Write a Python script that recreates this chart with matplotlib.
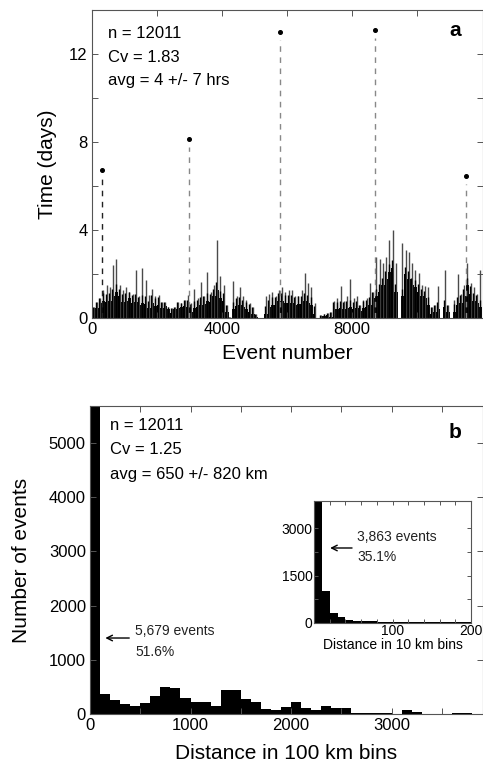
import numpy as np
import matplotlib
matplotlib.use("Agg")
import matplotlib.pyplot as plt

plt.rcParams['font.family'] = ['Liberation Sans', 'DejaVu Sans']

# ---- panel a: time between consecutive events, read in 100-event windows ----
win_start = np.arange(0, 12000, 100)
base_days = [0.3, 0.45, 0.7, 0.8, 0.75, 0.8, 1.0, 1.2, 1.0, 0.75,
             0.8, 0.9, 0.7, 0.75, 0.6, 0.7, 0.65, 0.45, 0.7, 0.55,
             0.6, 0.45, 0.55, 0.4, 0.25, 0.4, 0.45, 0.5, 0.55, 0.5,
             0.3, 0.45, 0.5, 0.6, 0.65, 0.8, 0.75, 1.0, 1.3, 0.9,
             0.8, 0.3, 0.0, 0.4, 0.55, 0.6, 0.5, 0.4, 0.3, 0.2,
             0.05, 0.0, 0.0, 0.2, 0.5, 0.6, 0.6, 0.8, 0.8, 0.7,
             0.7, 0.7, 0.6, 0.65, 0.65, 0.8, 0.7, 0.6, 0.2, 0.0,
             0.1, 0.12, 0.15, 0.05, 0.4, 0.4, 0.45, 0.4, 0.45, 0.5,
             0.4, 0.45, 0.35, 0.45, 0.5, 0.6, 0.9, 1.0, 1.2, 1.5,
             1.8, 2.1, 2.3, 1.2, 0.0, 1.0, 2.0, 1.8, 1.5, 1.4,
             1.2, 1.0, 0.9, 0.6, 0.2, 0.3, 0.4, 0.0, 0.5, 0.3,
             0.0, 0.3, 0.6, 0.7, 1.0, 1.5, 1.1, 0.8, 0.7, 0.5]
peak_days = [0.5, 0.75, 0.9, 1.3, 1.5, 1.4, 2.4, 2.7, 1.5, 1.3,
             1.4, 1.2, 1.1, 2.2, 1.0, 2.3, 1.75, 1.05, 1.35, 1.0,
             1.05, 0.75, 0.75, 0.5, 0.45, 0.5, 0.75, 0.7, 0.85, 1.05,
             0.7, 1.35, 0.9, 1.65, 1.0, 2.1, 1.2, 1.5, 3.55, 1.9,
             1.5, 0.6, 0.05, 1.7, 1.0, 1.4, 1.0, 0.85, 0.7, 0.5,
             0.2, 0.0, 0.0, 1.0, 1.1, 1.2, 1.0, 1.3, 1.4, 1.2,
             1.3, 1.3, 1.0, 1.0, 1.3, 2.05, 1.6, 1.4, 0.7, 0.0,
             0.15, 0.2, 0.25, 0.3, 0.8, 0.9, 1.45, 0.8, 1.0, 1.8,
             0.9, 1.0, 0.6, 0.85, 0.9, 1.6, 1.2, 2.8, 2.7, 2.5,
             2.8, 3.56, 4.0, 2.5, 0.0, 3.4, 3.1, 3.0, 2.5, 2.2,
             2.05, 1.5, 1.45, 1.4, 0.5, 0.6, 1.45, 0.0, 2.2, 0.6,
             0.0, 0.85, 2.0, 1.1, 1.5, 2.5, 1.6, 1.4, 1.1, 2.2]

# long gaps drawn as dots on dashed lines
gap_event = [320, 2975, 5795, 8700, 11500]
gap_days = [6.73, 8.12, 12.98, 13.09, 6.47]

# ---- panel b: distance histograms ----
hist100 = [5679, 360, 265, 190, 140, 200, 340, 490, 475, 290,
           215, 215, 155, 450, 450, 285, 220, 100, 80, 125,
           215, 105, 74, 153, 105, 105, 25, 25, 12, 12,
           5, 80, 43, 5, 3, 3, 20, 20, 5]
hist10 = [3863, 1000, 320, 180, 106, 74, 55, 50, 45, 42,
          40, 38, 35, 32, 30, 28, 25, 22, 20, 18]

W, H = 483, 768
fig = plt.figure(figsize=(W / 100, H / 100), dpi=100)


def style(ax, size=12):
    for s in ax.spines.values():
        s.set_color('#555555')
        s.set_linewidth(0.8)
    ax.tick_params(which='both', direction='in', top=True, right=True,
                   length=4, width=0.7, color='#555555', labelsize=size, pad=3)


# panel a
ax1 = fig.add_axes([92 / W, 1 - 318.3 / H, 391 / W, 308.3 / H])
edges = np.append(win_start, 12000)
ax1.stairs(base_days, edges, fill=True, color='black', linewidth=0)
ax1.vlines(win_start + 50, 0, peak_days, color='#4a4a4a', linewidth=1.0)
ax1.vlines(win_start + 25, 0, np.minimum(peak_days, np.add(base_days, 0.35)),
           color='black', linewidth=1.0)
dash_cols = ['#222222', '#888888', '#888888', '#888888', '#888888']
for x, y, c in zip(gap_event, gap_days, dash_cols):
    ax1.plot([x, x], [0, y - 0.35], color=c, linewidth=1, dashes=(4, 4))
ax1.plot(gap_event, gap_days, 'o', color='black', markersize=2.6)
ax1.set_xlim(0, 12030)
ax1.set_ylim(0, 14)
ax1.set_yticks([0, 4, 8, 12])
ax1.set_yticks([2, 6, 10], minor=True)
ax1.set_xticks([0, 4000, 8000])
ax1.set_xticks([2000, 6000, 10000], minor=True)
style(ax1)
ax1.set_xlabel('Event number', fontsize=15, labelpad=5)
ax1.set_ylabel('Time (days)', fontsize=15, labelpad=9)
for i, t in enumerate(['n = 12011', 'Cv = 1.83', 'avg = 4 +/- 7 hrs']):
    fig.text(108 / W, 1 - (33 + 24 * i) / H, t, fontsize=12, va='center')
fig.text(455 / W, 1 - 31 / H, 'a', fontsize=15, fontweight='bold', va='center', ha='center')

# panel b
ax2 = fig.add_axes([90 / W, 1 - 714 / H, 393 / W, 308 / H])
ax2.bar(np.arange(len(hist100)) * 100, hist100, width=100, align='edge',
        color='black', linewidth=0)
ax2.set_xlim(0, 3910)
ax2.set_ylim(0, 5683)
ax2.set_xticks([0, 1000, 2000, 3000])
ax2.set_xticks([500, 1500, 2500, 3500], minor=True)
ax2.set_yticks(range(0, 6000, 1000))
style(ax2)
ax2.set_xlabel('Distance in 100 km bins', fontsize=15, labelpad=8)
ax2.set_ylabel('Number of events', fontsize=15, labelpad=13)
for i, t in enumerate(['n = 12011', 'Cv = 1.25', 'avg = 650 +/- 820 km']):
    fig.text(110 / W, 1 - (425 + 25 * i) / H, t, fontsize=12, va='center')
fig.text(455 / W, 1 - 433 / H, 'b', fontsize=15, fontweight='bold', va='center', ha='center')
ax2.annotate('', xy=(125, 1402), xytext=(418, 1402),
             arrowprops=dict(arrowstyle='->', color='black', lw=1))
ax2.text(448, 1531, '5,679 events', fontsize=10, va='center', color='#222222')
ax2.text(448, 1144, '51.6%', fontsize=10, va='center', color='#222222')

# inset
ax3 = fig.add_axes([314 / W, 1 - 623 / H, 157 / W, 122 / H])
ax3.bar(np.arange(len(hist10)) * 10, hist10, width=10, align='edge',
        color='black', linewidth=0)
ax3.set_xlim(0, 200)
ax3.set_ylim(0, 3863)
ax3.set_xticks([100, 200])
ax3.set_xticks(range(0, 200, 20), minor=True)
ax3.set_yticks([0, 1500, 3000])
ax3.set_yticks([750, 2250], minor=True)
style(ax3, size=10)
ax3.tick_params(which='both', length=3, pad=1)
ax3.set_xlabel('Distance in 10 km bins', fontsize=10, labelpad=0)
ax3.annotate('', xy=(17, 2375), xytext=(52, 2375),
             arrowprops=dict(arrowstyle='->', color='black', lw=1))
ax3.text(55, 2723, '3,863 events', fontsize=10, va='center', color='#222222')
ax3.text(55, 2090, '35.1%', fontsize=10, va='center', color='#222222')

fig.savefig('out.png', dpi=100)
